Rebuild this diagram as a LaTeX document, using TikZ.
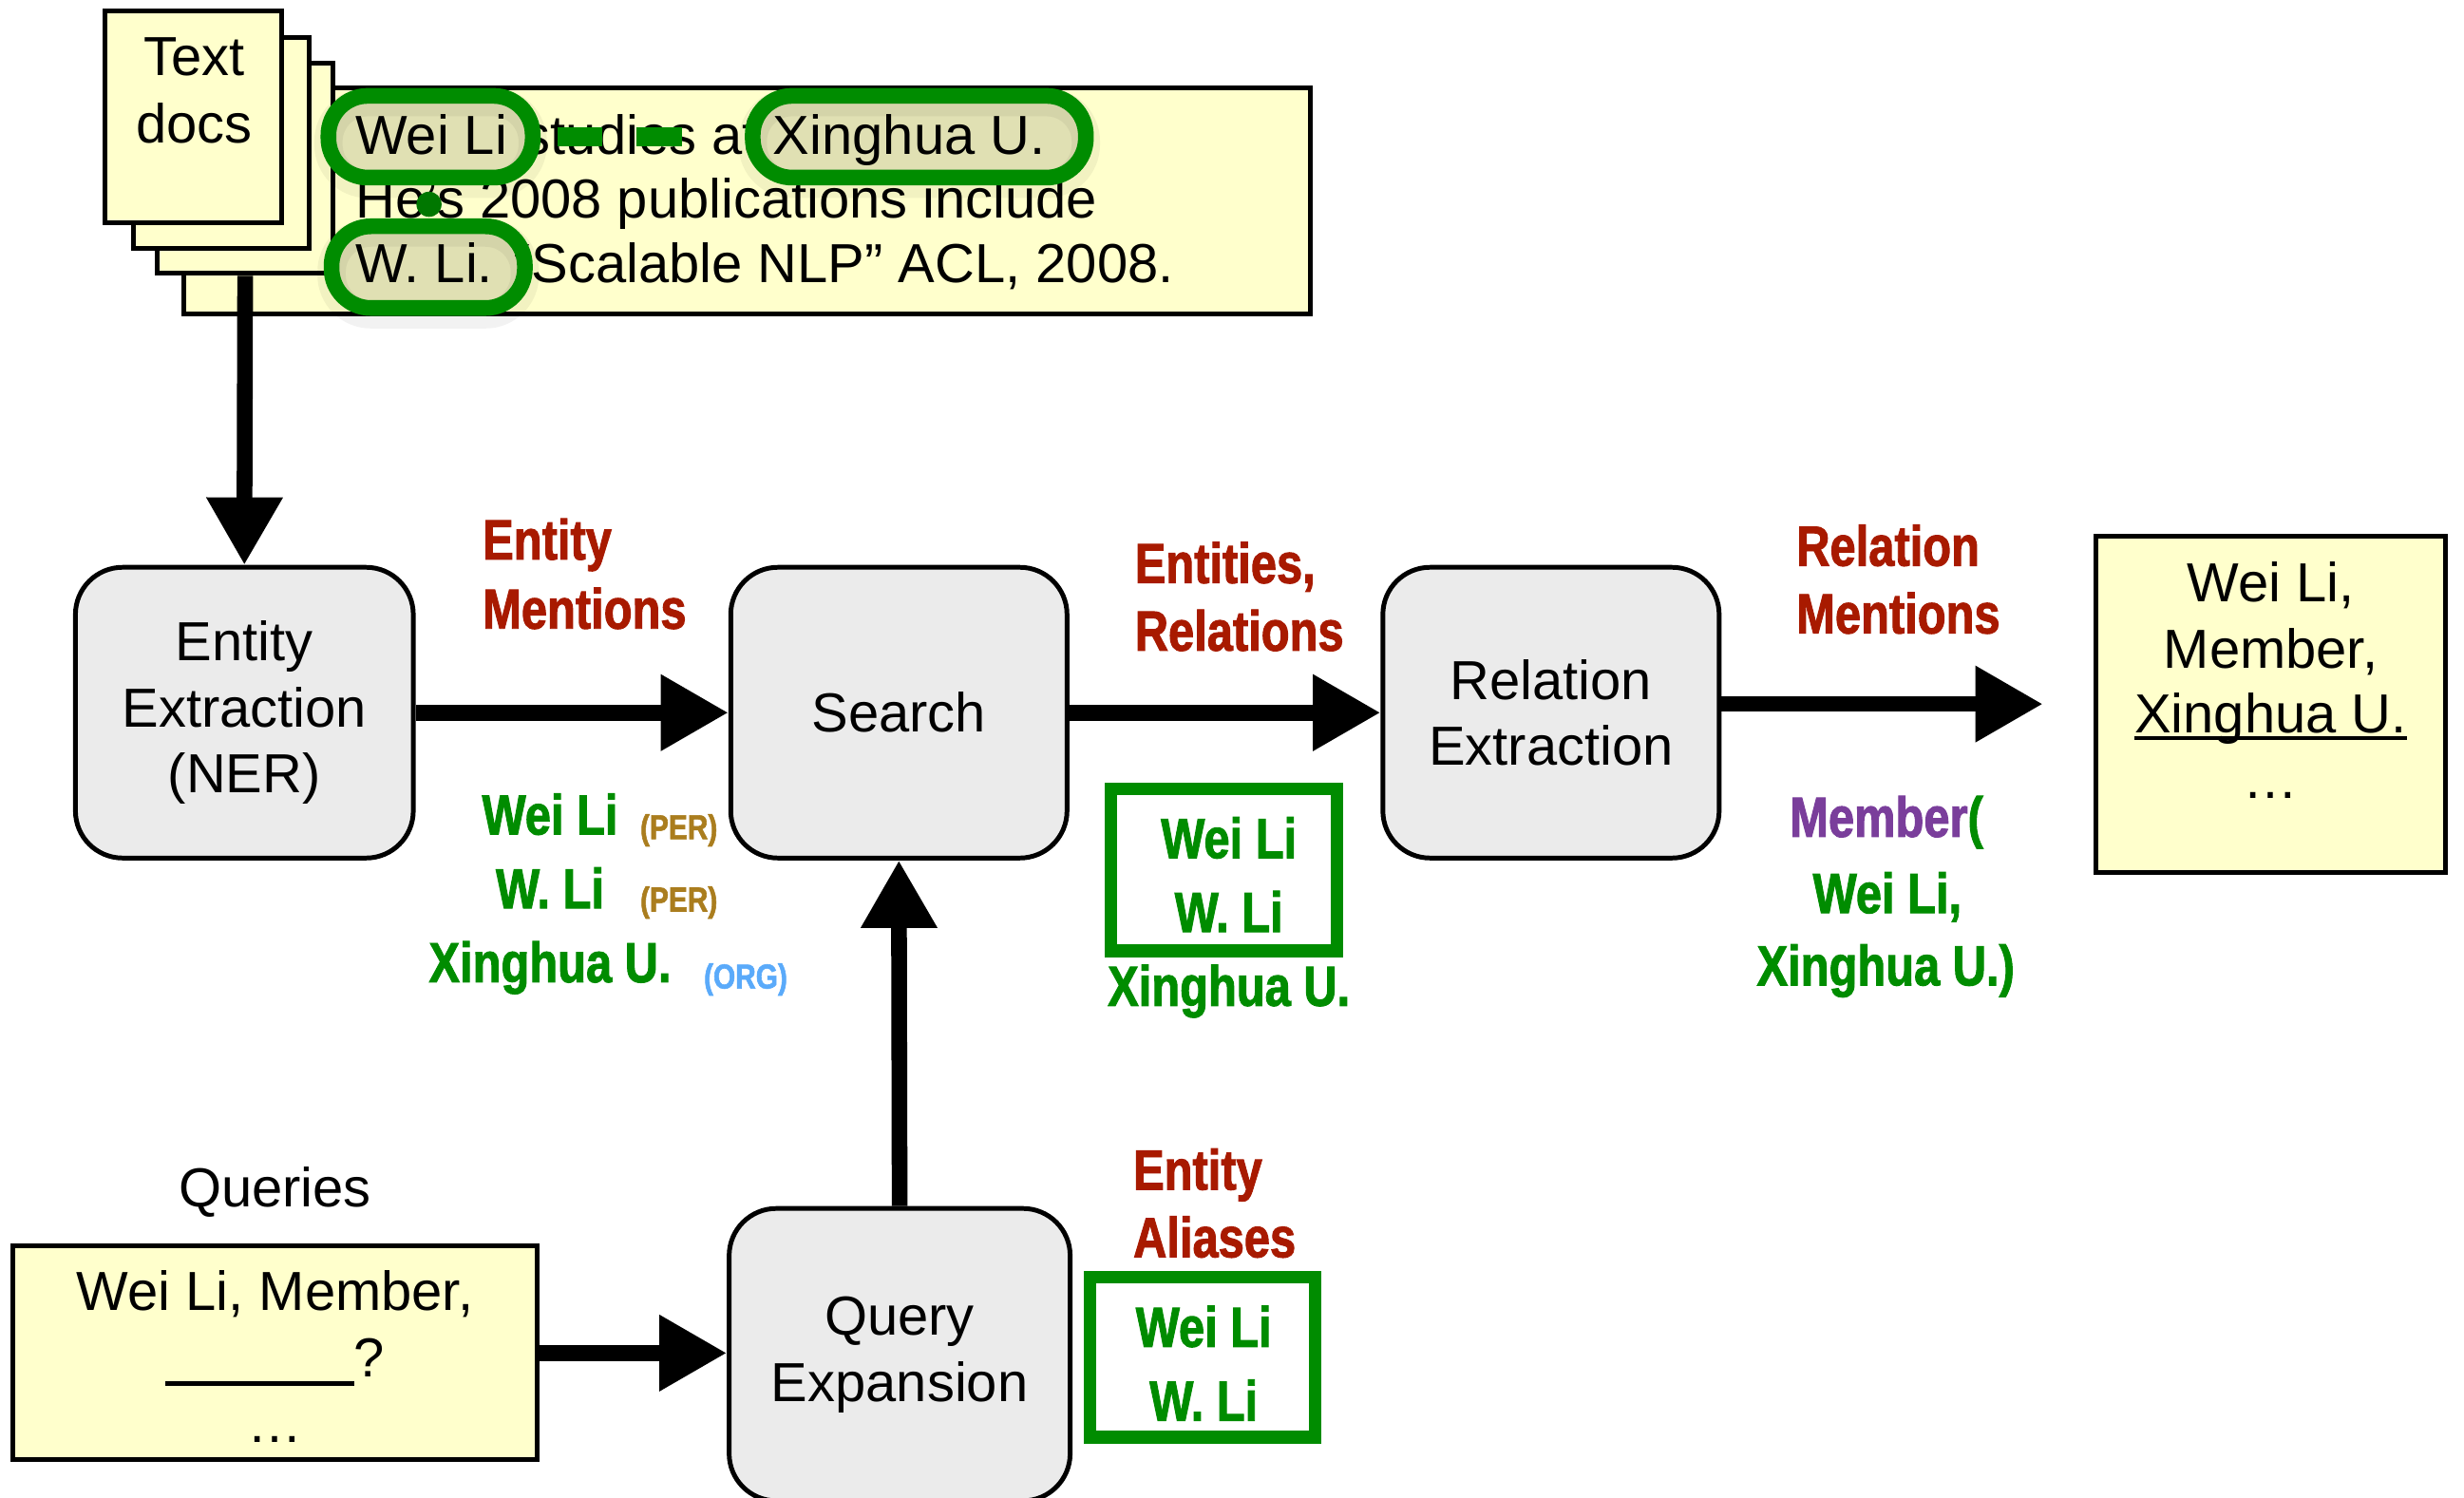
\documentclass[tikz,border=0pt]{standalone}
\usepackage{fontspec}
\setmainfont{Liberation Sans}
\newfontfamily\condbf{Liberation Sans}[FakeStretch=0.82, FakeBold=1.6]
\usetikzlibrary{arrows.meta}
\definecolor{lblred}{RGB}{168,26,0}
\definecolor{entgreen}{RGB}{0,140,0}
\definecolor{relpurple}{RGB}{122,62,155}
\definecolor{pergold}{RGB}{170,125,30}
\definecolor{orgblue}{RGB}{90,170,250}
\definecolor{noteyellow}{RGB}{255,255,204}
\definecolor{boxgrey}{RGB}{235,235,235}
\begin{document}
\begin{tikzpicture}[x=1pt,y=-1pt,
  proc/.style={draw=black, line width=3pt, fill=boxgrey, rounded corners=30pt,
    minimum width=215pt, minimum height=185pt, align=center, inner sep=0pt,
    font=\fontsize{35}{42}\selectfont},
  note/.style={draw=black, line width=3pt, fill=noteyellow, inner sep=0pt},
  flow/.style={line width=10pt, -{Triangle[length=43pt,width=46pt]}},
  plain/.style={inner sep=0pt, font=\fontsize{35}{42}\selectfont},
  lbl/.style={inner sep=0pt, font=\condbf\bfseries\fontsize{36}{44}\selectfont},
  tag/.style={inner sep=0pt, font=\condbf\bfseries\fontsize{22}{24}\selectfont},
  ring/.style={draw=entgreen, line width=10pt, rounded corners=25pt},
  gbox/.style={draw=entgreen, line width=8pt}]
\useasboundingbox (0,0) rectangle (1568,953);

% document stack
\node[note, minimum width=717pt, minimum height=144pt] (textbox) at (475.5,128) {};
\node[note, minimum width=112pt, minimum height=134pt] (sheet3) at (156,107) {};
\node[note, minimum width=112pt, minimum height=134pt] (sheet2) at (141,91) {};
\node[note, minimum width=112pt, minimum height=135pt] (sheet1) at (123,74.5) {};
\node[plain, anchor=base] (doct) at (123.5,48) {Text};
\node[plain, anchor=base] (docd) at (123.5,91) {docs};

\node[plain, anchor=base west] (line1) at (226,98) {Wei Li studies at Xinghua U.};
\node[plain, anchor=base west] (line2) at (226,139) {He’s 2008 publications include};
\node[plain, anchor=base west] (line3) at (226,180) {W. Li. “Scalable NLP” ACL, 2008.};

% ring shadows
\foreach \a/\b/\c/\d in {209/61/339/113, 479/61/691/113, 211/144/334/196}{
  \draw[black, opacity=0.05, line width=18pt, rounded corners=25pt] (\a,\b+4) rectangle (\c,\d+4);
  \fill[black, opacity=0.12, rounded corners=25pt] (\a,\b) rectangle (\c,\d);
}
\draw[ring] (209,61) rectangle (339,113);
\draw[ring] (479,61) rectangle (691,113);
\draw[ring] (211,144) rectangle (334,196);
\fill[entgreen] (355,81) rectangle (383,93);
\fill[entgreen] (405,81) rectangle (434,93);
\fill[entgreen!85!black] (273,130) circle[radius=8];

% process boxes
\node[proc] (ner) at (155.5,453.5) {Entity\\Extraction\\(NER)};
\node[proc, minimum width=214pt] (search) at (572,453.5) {Search};
\node[proc, minimum width=214pt] (relx) at (987,453.5) {Relation\\Extraction};
\node[proc, minimum width=217pt, minimum height=186pt] (qexp) at (572.5,862) {Query\\Expansion};

% queries
\node[plain, anchor=base] (qlabel) at (175,768) {Queries};
\node[note, minimum width=334pt, minimum height=136pt] (queries) at (175,861) {};
\node[plain, anchor=base] (q1) at (175,834) {Wei Li, Member,};
\node[plain, anchor=base] (q2) at (175,876) {\rule[-6pt]{120pt}{3pt}?};
\node[plain, anchor=base] (q3) at (175,918) {…};

% result
\node[note, minimum width=222pt, minimum height=214pt] (result) at (1445,448) {};
\node[plain, anchor=base] (r1) at (1445,383) {Wei Li,};
\node[plain, anchor=base] (r2) at (1445,425) {Member,};
\node[plain, anchor=base] (r3) at (1445,466.5) {Xinghua U.};
\draw[line width=2.5pt] ([yshift=-3pt]r3.base west) -- ([yshift=-3pt]r3.base east);
\node[plain, anchor=base] (r4) at (1445,508) {…};

% connectors
\coordinate (relout) at (1300,448);
\draw[flow] (sheet3.south) -- (ner.north);
\draw[flow] (ner.east) -- (search.west);
\draw[flow] (search.east) -- (relx.west);
\draw[flow] (relx.east |- relout) -- (relout);
\draw[flow] (qexp.north) -- (search.south);
\draw[flow] (queries.east) -- (qexp.west |- queries.east);

% red labels
\node[lbl, text=lblred, anchor=base west] (em1) at (307,356) {Entity};
\node[lbl, text=lblred, anchor=base west] (em2) at (307,400) {Mentions};
\node[lbl, text=lblred, anchor=base west] (er1) at (722,371) {Entities,};
\node[lbl, text=lblred, anchor=base west] (er2) at (722,414) {Relations};
\node[lbl, text=lblred, anchor=base west] (rm1) at (1143,360) {Relation};
\node[lbl, text=lblred, anchor=base west] (rm2) at (1143,403) {Mentions};
\node[lbl, text=lblred, anchor=base west] (ea1) at (721,757) {Entity};
\node[lbl, text=lblred, anchor=base west] (ea2) at (721,800) {Aliases};

% green entity mentions
\node[lbl, text=entgreen, anchor=base] (g1) at (350,531) {Wei Li};
\node[lbl, text=entgreen, anchor=base] (g2) at (350,578) {W. Li};
\node[lbl, text=entgreen, anchor=base] (g3) at (350,625) {Xinghua U.};
\node[tag, text=pergold, anchor=base] (t1) at (432,534) {(PER)};
\node[tag, text=pergold, anchor=base] (t2) at (432,580) {(PER)};
\node[tag, text=orgblue, anchor=base] (t3) at (474.5,629) {(ORG)};

% entities box
\draw[gbox] (707,502) rectangle (851,605);
\node[lbl, text=entgreen, anchor=base] (m1) at (782,546) {Wei Li};
\node[lbl, text=entgreen, anchor=base] (m2) at (782,593) {W. Li};
\node[lbl, text=entgreen, anchor=base] (m3) at (782,640) {Xinghua U.};

% aliases box
\draw[gbox] (693.5,812.5) rectangle (837,914.5);
\node[lbl, text=entgreen, anchor=base] (a1) at (766,857) {Wei Li};
\node[lbl, text=entgreen, anchor=base] (a2) at (766,904) {W. Li};

% relation mention
\node[lbl, anchor=base] (p1) at (1200.5,532.5) {\textcolor{relpurple}{Member}\textcolor{entgreen}{(}};
\node[lbl, text=entgreen, anchor=base] (p2) at (1201,581) {Wei Li,};
\node[lbl, text=entgreen, anchor=base] (p3) at (1200,627) {Xinghua U.)};
\end{tikzpicture}
\end{document}
